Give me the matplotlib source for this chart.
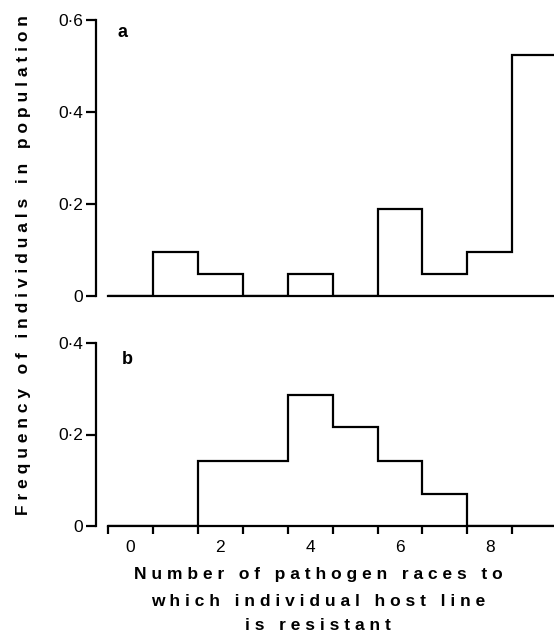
import numpy as np
import matplotlib
matplotlib.use("Agg")
import matplotlib.pyplot as plt

# ---- data ----
races = [0, 1, 2, 3, 4, 5, 6, 7, 8, 9]
freq_a = [0.0, 0.095, 0.048, 0.0, 0.048, 0.0, 0.19, 0.048, 0.095, 0.525]
freq_b = [0.0, 0.0, 0.143, 0.143, 0.286, 0.217, 0.143, 0.071, 0.0, 0.0]
yticks_a = [0, 0.2, 0.4, 0.6]
yticks_b = [0, 0.2, 0.4]
ytick_labels_a = ["0", "0·2", "0·4", "0·6"]
ytick_labels_b = ["0", "0·2", "0·4"]
xtick_label_pos = [0, 2, 4, 6, 8]
xtick_labels = ["0", "2", "4", "6", "8"]
ylabel = "Frequency of individuals in population"
xlabel_lines = ["Number of pathogen races to",
                "which individual host line",
                "is resistant"]

plt.rcParams['font.family'] = ['Liberation Sans', 'DejaVu Sans']

def spaced(s):
    words = s.split(" ")
    return "   ".join(" ".join(list(w)) for w in words)

W, H = 554, 633
fig = plt.figure(figsize=(W / 100, H / 100), dpi=100)

left = 96 / W
xmin, xmax = -0.77, 9.43
edges = np.array(races + [races[-1] + 1]) - 0.5

ax_a = fig.add_axes([left, 1 - 296 / H, 1 - left, (296 - 20) / H])
ax_b = fig.add_axes([left, 1 - 526 / H, 1 - left, (526 - 343) / H])

lw = 1.6
for ax, vals, yt, ytl, ymax in [(ax_a, freq_a, yticks_a, ytick_labels_a, 0.6),
                                (ax_b, freq_b, yticks_b, ytick_labels_b, 0.4)]:
    ax.stairs(vals, edges, color="black", linewidth=lw, baseline=None)
    for s in ["top", "right"]:
        ax.spines[s].set_visible(False)
    ax.spines["left"].set_linewidth(lw)
    ax.spines["bottom"].set_linewidth(lw)
    ax.spines["bottom"].set_bounds(-0.5, edges[-1])
    ax.spines["left"].set_bounds(0, ymax)
    ax.set_yticks(yt)
    ax.set_yticklabels(ytl)
    ax.tick_params(axis="y", direction="out", length=7, width=lw, pad=2,
                   labelsize=12.5)
    ax.patch.set_visible(False)

ax_a.set_xticks([])
ax_a.spines["bottom"].set_position(("data", 0))

ax_b.set_xticks(edges[:-1])
ax_b.set_xticklabels([])
ax_b.set_xticks(xtick_label_pos, minor=True)
ax_b.set_xticklabels(xtick_labels, minor=True)
ax_b.tick_params(axis="x", which="major", direction="out", length=6, width=lw)
ax_b.tick_params(axis="x", which="minor", length=0, pad=10, labelsize=12.5)

for ax, ymax in [(ax_a, 0.6), (ax_b, 0.4)]:
    ax.set_xlim(xmin, xmax)
    ax.set_ylim(0, ymax)

ax_a.text(-0.19, 0.572, "a", fontsize=13, fontweight="bold", ha="center", va="center")
ax_b.text(-0.08, 0.363, "b", fontsize=13, fontweight="bold", ha="center", va="center")

fig.text(24 / W, 1 - 265 / H, spaced(ylabel), rotation=90, ha="center", va="center",
         fontsize=12.5, fontweight="bold")
for i, (line, yy) in enumerate(zip(xlabel_lines, [574, 601, 625])):
    fig.text(318 / W, 1 - yy / H, spaced(line), ha="center", va="center",
             fontsize=12.5, fontweight="bold")

fig.savefig("out.png", dpi=100)
